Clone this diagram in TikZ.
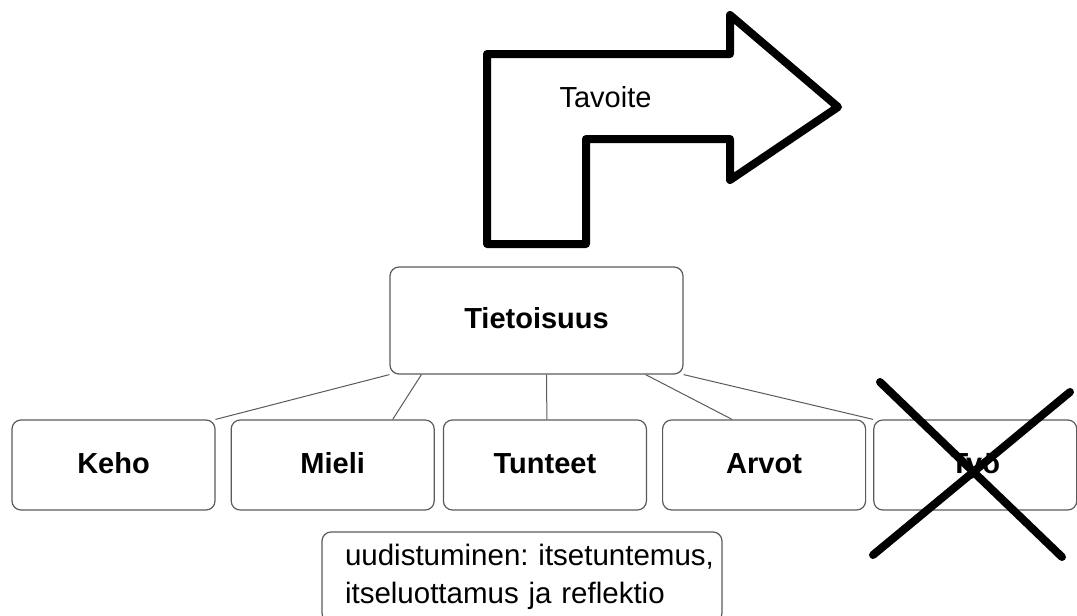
\documentclass[tikz,border=0pt]{standalone}
\usepackage{fontspec}
\setmainfont{Liberation Sans}
\usetikzlibrary{positioning}
\definecolor{frame}{HTML}{5A5A5A}

\begin{document}
\begin{tikzpicture}[x=1pt, y=-1pt, node distance=15pt,
  box/.style={draw=frame, line width=1.2pt, rounded corners=9pt, align=center, minimum width=203pt, minimum height=90pt, text height=22pt, text depth=6pt, font=\fontsize{29}{34}\selectfont\bfseries},
  note/.style={draw=frame, line width=1.2pt, rounded corners=9pt, align=left, minimum height=90pt, text width=354pt, inner xsep=23pt, font=\fontsize{29.5}{38}\selectfont\frenchspacing},
  link/.style={draw=frame, line width=1pt},
  bold line/.style={line width=8pt}]
\useasboundingbox (0,0) rectangle (1077,616);
\clip (0,0) rectangle (1077,616);
% turning arrow
\draw[bold line, line join=round] (487,54) -- (730,54) -- (730,15) -- (838,107) -- (730,180) -- (730,139) -- (586,139) -- (586,244) -- (487,244) -- cycle;
\node[font=\fontsize{29}{34}\selectfont, anchor=base] (goal) at (605.5,107) {Tavoite};
% boxes
\node[box, minimum width=293pt, minimum height=107pt] (tiet) at (536.5,320.5) {Tietoisuus};
\node[box] (keho) at (113.5,465) {Keho};
\node[box, right=of keho] (mieli) {Mieli};
\node[box, right=8pt of mieli] (tunt) {Tunteet};
\node[box, right=of tunt] (arvot) {Arvot};
\node[box, right=7pt of arvot] (tyo) {Työ};
\node[note] (renew) at (522,577) {\mbox{uudistuminen: itsetuntemus,}\\itseluottamus ja reflektio};
% links
\draw[link] (tiet.south west) -- (keho.north east);
\draw[link] ([xshift=32pt]tiet.south west) -- ([xshift=60pt]mieli.north);
\draw[link] ([xshift=10pt]tiet.south) -- ([xshift=2pt]tunt.north);
\draw[link] ([xshift=-38pt]tiet.south east) -- ([xshift=-32pt]arvot.north);
\draw[link] (tiet.south east) -- (tyo.north west);
% cross over Tyo
\coordinate (xa) at (880,382);
\coordinate (xb) at (1062,557);
\coordinate (xc) at (1070,392);
\coordinate (xd) at (873,555);
\draw[bold line, line cap=round] (xa) -- (xb);
\draw[bold line, line cap=round] (xc) -- (xd);
\end{tikzpicture}
\end{document}
